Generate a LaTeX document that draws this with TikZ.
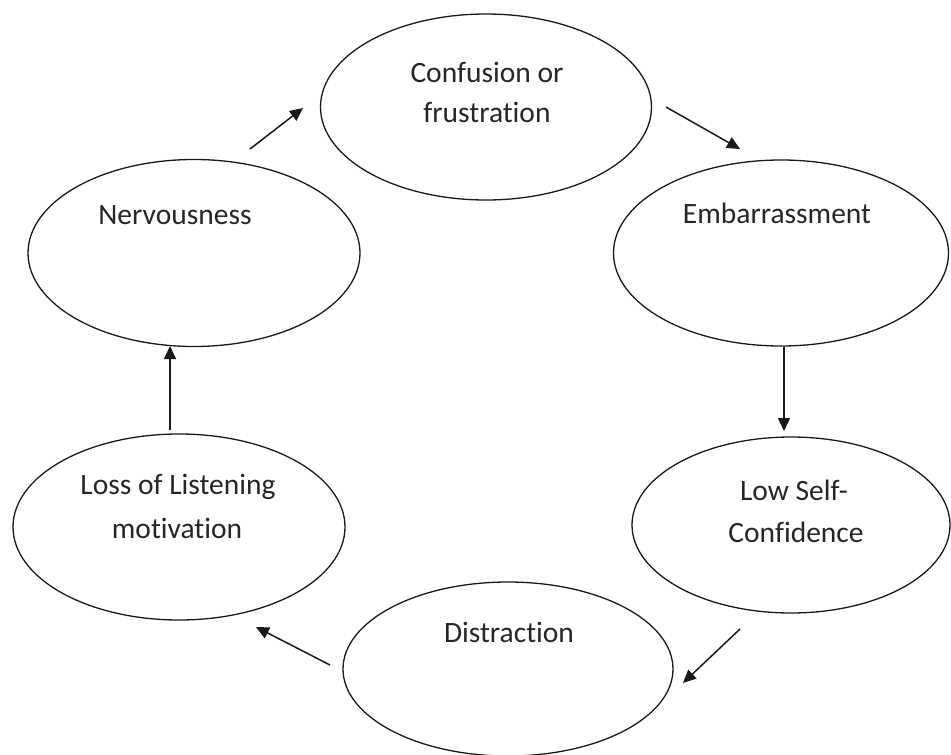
\documentclass[tikz,border=0pt]{standalone}
\usepackage{fontspec}
\setmainfont[Ligatures=NoCommon]{Carlito}
\usetikzlibrary{shapes.geometric,arrows.meta}
\begin{document}
\begin{tikzpicture}[x=1pt,y=-1pt,
  oval/.style={draw=black!90,line width=1.3pt,ellipse,inner sep=0pt},
  lbl/.style={font=\fontsize{29.5}{35}\selectfont,text=black!85,inner sep=0pt,align=center},
  arr/.style={draw=black!90,line width=1.5pt,-{Triangle[length=13pt,width=12pt]}}]
\useasboundingbox (0,0) rectangle (951,755);
% ellipses
\node[oval,minimum width=331pt,minimum height=186pt] (conf) at (486,107) {};
\node[oval,minimum width=332pt,minimum height=187pt] (nerv) at (194,253) {};
\node[oval,minimum width=335pt,minimum height=186pt] (emb) at (781,253) {};
\node[oval,minimum width=332pt,minimum height=186pt] (loss) at (179,527) {};
\node[oval,minimum width=318pt,minimum height=176pt] (low) at (791,525) {};
\node[oval,minimum width=330pt,minimum height=174pt] (dist) at (508,669) {};
% labels
\node[lbl] (tconf1) at (487,72) {Confusion or};
\node[lbl] (tconf2) at (487,112) {frustration};
\node[lbl] (tnerv) at (175,215) {Nervousness};
\node[lbl] (temb) at (777,213) {Embarrassment};
\node[lbl] (tlow1) at (794,490) {Low Self-};
\node[lbl] (tlow2) at (796,532) {Confidence};
\node[lbl] (tloss1) at (178,487) {Loss of Listening};
\node[lbl] (tloss2) at (177,528) {motivation};
\node[lbl] (tdist) at (509,632) {Distraction};
% arrow endpoints
\coordinate (a1s) at (250,149); \coordinate (a1e) at (303,108);
\coordinate (a2s) at (666,107); \coordinate (a2e) at (740,149);
\coordinate (a3s) at (784,347); \coordinate (a3e) at (784,431);
\coordinate (a4s) at (740,629); \coordinate (a4e) at (683,683);
\coordinate (a5s) at (330,665); \coordinate (a5e) at (256,627);
\coordinate (a6s) at (170,430); \coordinate (a6e) at (170,346);
\draw[arr] (a1s) -- (a1e);
\draw[arr] (a2s) -- (a2e);
\draw[arr] (a3s) -- (a3e);
\draw[arr] (a4s) -- (a4e);
\draw[arr] (a5s) -- (a5e);
\draw[arr] (a6s) -- (a6e);
\end{tikzpicture}
\end{document}
